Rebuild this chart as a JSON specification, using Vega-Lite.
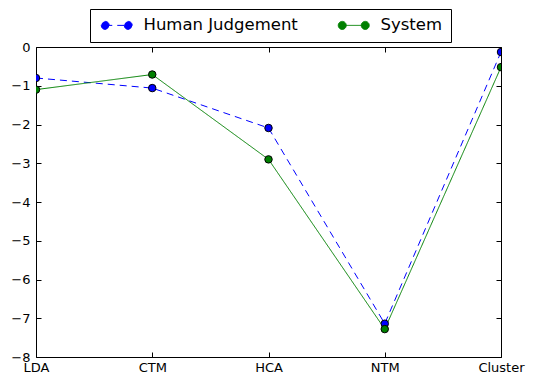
{
  "$schema": "https://vega.github.io/schema/vega-lite/v6.json",
  "width": 465,
  "height": 310,
  "autosize": {"type": "none"},
  "padding": {"left": 36, "top": 47, "right": 34, "bottom": 30},
  "background": "white",
  "config": {
    "view": {"stroke": "black", "strokeWidth": 1},
    "axis": {"grid": false, "domain": false, "tickColor": "black", "labelColor": "black", "labelFont": "DejaVu Sans", "labelFontSize": 13, "title": null, "tickSize": -5}
  },
  "data": {"values": [
    {"model": "LDA", "series": "Human Judgement", "value": -0.80},
    {"model": "CTM", "series": "Human Judgement", "value": -1.06},
    {"model": "HCA", "series": "Human Judgement", "value": -2.09},
    {"model": "NTM", "series": "Human Judgement", "value": -7.14},
    {"model": "Cluster", "series": "Human Judgement", "value": -0.13},
    {"model": "LDA", "series": "System", "value": -1.10},
    {"model": "CTM", "series": "System", "value": -0.71},
    {"model": "HCA", "series": "System", "value": -2.90},
    {"model": "NTM", "series": "System", "value": -7.28},
    {"model": "Cluster", "series": "System", "value": -0.52}
  ]},
  "resolve": {"axis": {"x": "independent", "y": "independent"}},
  "layer": [
    {
      "mark": {"type": "line", "strokeWidth": 1, "clip": true},
      "encoding": {
        "x": {"field": "model", "type": "ordinal", "sort": ["LDA", "CTM", "HCA", "NTM", "Cluster"], "scale": {"type": "point", "padding": 0}, "axis": {"labelAngle": 0, "labelPadding": 9, "orient": "bottom"}},
        "y": {"field": "value", "type": "quantitative", "scale": {"domain": [-8, 0], "nice": false}, "axis": {"values": [-8, -7, -6, -5, -4, -3, -2, -1, 0], "labelPadding": 11, "orient": "left"}},
        "color": {"field": "series", "type": "nominal", "scale": {"domain": ["Human Judgement", "System"], "range": ["#0000ff", "#008000"]},
          "legend": {"title": null, "orient": "none", "legendX": 54, "legendY": -38, "direction": "horizontal", "columns": 2,
            "symbolType": "M-1,0A0.8,0.8 0 1,0 0.6,0A0.8,0.8 0 1,0 -1,0ZM-0.2,0L4.4,0M3.6,0A0.8,0.8 0 1,0 5.2,0A0.8,0.8 0 1,0 3.6,0Z",
            "symbolSize": 100, "symbolStrokeWidth": 1, "labelFontSize": 16.5, "labelFont": "DejaVu Sans", "labelColor": "black", "labelOffset": 29, "columnPadding": 37, "padding": 8, "strokeColor": "black", "fillColor": "white", "cornerRadius": 0, "labelLimit": 0,
            "encode": {"symbols": {"update": {"fill": {"scale": "color", "field": "value"}}}}}},
        "strokeDash": {"field": "series", "type": "nominal", "scale": {"domain": ["Human Judgement", "System"], "range": [[7, 5], [1, 0]]}, "legend": {"title": null}}
      }
    },
    {
      "mark": {"type": "point", "filled": true, "size": 56, "stroke": "black", "strokeWidth": 1, "opacity": 1, "clip": true},
      "encoding": {
        "x": {"field": "model", "type": "ordinal", "sort": ["LDA", "CTM", "HCA", "NTM", "Cluster"], "scale": {"type": "point", "padding": 0}, "axis": {"labels": false, "orient": "top"}},
        "y": {"field": "value", "type": "quantitative", "scale": {"domain": [-8, 0], "nice": false}, "axis": {"values": [-8, -7, -6, -5, -4, -3, -2, -1, 0], "labels": false, "orient": "right"}},
        "fill": {"field": "series", "type": "nominal", "scale": {"domain": ["Human Judgement", "System"], "range": ["#0000ff", "#008000"]}, "legend": null}
      }
    }
  ]
}
